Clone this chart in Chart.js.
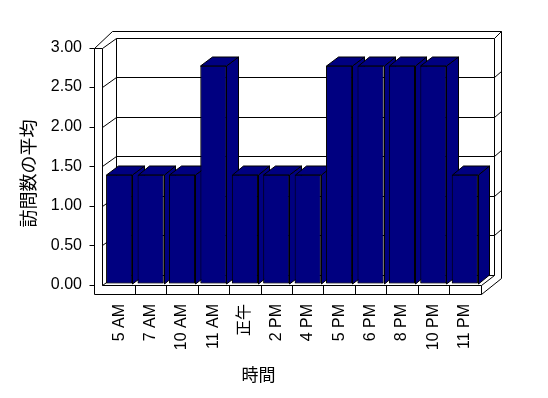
<!DOCTYPE html>
<html>
<head>
<meta charset="utf-8">
<script src="https://cdn.jsdelivr.net/npm/chart.js@4/dist/chart.umd.min.js"></script>
<style>
  html, body { margin:0; padding:0; background:#fff; }
</style>
</head>
<body>
<canvas id="chart" width="548" height="398"></canvas>
<script>
// ─── Data ─────────────────────────────────────────────────────────────────────
const HOURS      = ['5 AM','7 AM','10 AM','11 AM','正午','2 PM','4 PM','5 PM','6 PM','8 PM','10 PM','11 PM'];
const AVG_VISITS = [1.375, 1.375, 1.375, 2.75, 1.375, 1.375, 1.375, 2.75, 2.75, 2.75, 2.75, 1.375];
const Y_TICKS    = [0, 0.5, 1, 1.5, 2, 2.5, 3];
const X_TITLE    = '時間';
const Y_TITLE    = '訪問数の平均';

// ─── Style ────────────────────────────────────────────────────────────────────
const NAVY = '#000080';
const FONT = "'Liberation Sans', 'Noto Sans CJK JP', sans-serif";
const CJK  = "'Noto Sans CJK JP', sans-serif";
const WALL = { dx:14, dy:-10 };            // depth of the 3d box
const BAR  = { dx:11.5, dy:-9.5, lift:1.5 };

const px = v => Math.round(v) + 0.5;
function seg(ctx, pts) {
  ctx.beginPath();
  pts.forEach(([x, y], i) => i ? ctx.lineTo(px(x), px(y)) : ctx.moveTo(px(x), px(y)));
  ctx.stroke();
}
function poly(ctx, pts) {
  ctx.beginPath();
  pts.forEach(([x, y], i) => i ? ctx.lineTo(px(x), px(y)) : ctx.moveTo(px(x), px(y)));
  ctx.closePath();
  ctx.fill();
  ctx.stroke();
}

// ─── 3D frame + bars ──────────────────────────────────────────────────────────
const box3d = {
  id: 'box3d',
  beforeDatasetsDraw(chart) {
    const { ctx, chartArea: a, scales: { x, y } } = chart;
    const L = a.left, R = a.right, T = a.top, B = a.bottom;
    const wi = L - 2, wo = L - 9.5;          // left wall inner / outer
    const bl = wi + WALL.dx, br = R + 13;    // back wall left / right
    ctx.save();
    ctx.strokeStyle = '#000';
    ctx.lineWidth = 1;

    // outer rim of back + left wall
    seg(ctx, [[wo, T], [L + 8, T - 16.5], [R + 20, T - 16.5], [R + 20, B - 7]]);
    seg(ctx, [[br, T + WALL.dy], [R + 20, T - 16.5]]);

    // gridlines on left + back wall
    Y_TICKS.forEach(v => {
      const yy = y.getPixelForValue(v);
      seg(ctx, [[wi, yy], [bl, yy + WALL.dy], [br, yy + WALL.dy]]);
      if (v > 0 && v < 3) seg(ctx, [[br, yy + WALL.dy], [br + 7, yy + WALL.dy - 6]]);
      seg(ctx, [[wo - 5, yy], [wo, yy]]);
    });
    seg(ctx, [[bl, T + WALL.dy], [bl, B + WALL.dy]]);
    seg(ctx, [[br, T + WALL.dy], [br, B + WALL.dy]]);

    // left wall front strip
    seg(ctx, [[wo, T], [wi, T]]);
    seg(ctx, [[wo, T], [wo, B + 9]]);
    seg(ctx, [[wi, T], [wi, B]]);

    // floor
    seg(ctx, [[wi, B], [R, B], [R, B + 9], [wo, B + 9]]);
    seg(ctx, [[R, B], [br, B + WALL.dy]]);
    seg(ctx, [[R, B + 9], [R + 20, B - 7]]);
    for (let i = 1; i < HOURS.length; i++) {
      const xb = (x.getPixelForValue(i - 1) + x.getPixelForValue(i)) / 2;
      seg(ctx, [[xb, B], [xb, B + 9]]);
    }
    ctx.restore();

    ctx.save();
    ctx.translate(0, -BAR.lift);
  },
  afterDatasetsDraw(chart) {
    const { ctx } = chart;
    ctx.fillStyle = NAVY;
    ctx.strokeStyle = '#000';
    ctx.lineWidth = 1;
    chart.getDatasetMeta(0).data.forEach(bar => {
      const { x: cx, y: top, base, width } = bar.getProps(['x', 'y', 'base', 'width'], true);
      const l = cx - width / 2, r = cx + width / 2;
      poly(ctx, [[r, top], [r + BAR.dx, top + BAR.dy], [r + BAR.dx, base + BAR.dy], [r, base]]);
      poly(ctx, [[l, top], [l + BAR.dx, top + BAR.dy], [r + BAR.dx, top + BAR.dy], [r, top]]);
      bar.draw(ctx);
    });
    ctx.restore();
  },
  afterDraw(chart) {
    const { ctx, chartArea: a } = chart;
    ctx.save();
    ctx.fillStyle = '#000';
    ctx.textAlign = 'center';
    ctx.textBaseline = 'middle';
    ctx.font = `17px ${CJK}`;
    ctx.fillText(X_TITLE, a.left + 155, 375);
    ctx.translate(28, 173.5);
    ctx.rotate(-Math.PI / 2);
    ctx.font = `18px ${CJK}`;
    ctx.fillText(Y_TITLE, 0, 0);
    ctx.restore();
  }
};

// ─── Chart ────────────────────────────────────────────────────────────────────
new Chart(document.getElementById('chart').getContext('2d'), {
  type: 'bar',
  data: {
    labels: HOURS,
    datasets: [{
      data: AVG_VISITS,
      backgroundColor: NAVY,
      borderColor: '#000',
      borderWidth: 1,
      borderSkipped: false,
      barPercentage: 0.83,
      categoryPercentage: 1,
    }]
  },
  options: {
    responsive: false,
    animation: false,
    layout: { padding: { top:47.5, right:67.5, bottom:0, left:0 } },
    plugins: { legend:{ display:false }, tooltip:{ enabled:false } },
    scales: {
      x: {
        grid: { display:false, drawTicks:false }, border: { display:false },
        ticks: { color:'#000', font:{ family:FONT, size:16 }, minRotation:90, maxRotation:90, padding:19, autoSkip:false },
        afterFit: s => { s.height = 113; }
      },
      y: {
        min: 0, max: 3,
        grid: { display:false, drawTicks:false }, border: { display:false },
        ticks: { color:'#000', font:{ family:FONT, size:16 }, padding:21.5, callback: v => Number(v).toFixed(2) },
        afterBuildTicks: s => { s.ticks = Y_TICKS.map(v => ({ value:v })); },
        afterFit: s => { s.width = 103.5; }
      }
    }
  },
  plugins: [box3d]
});
</script>
</body>
</html>
